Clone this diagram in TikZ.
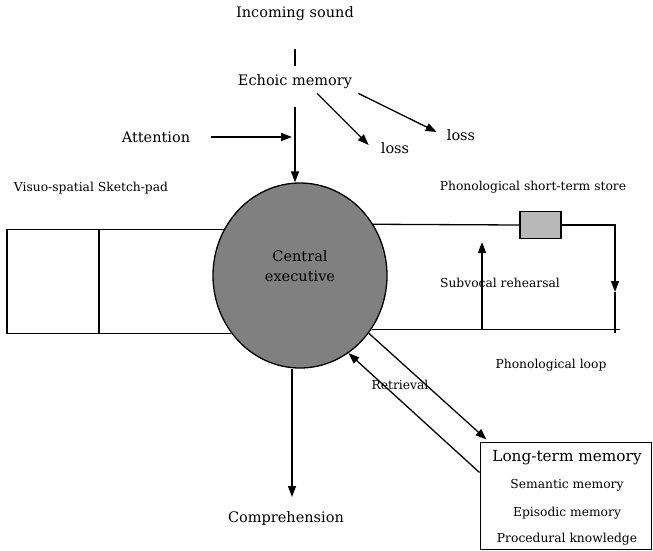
\documentclass[tikz,border=0pt]{standalone}
\usepackage{fontspec}
\setmainfont{DejaVu Serif}
\usetikzlibrary{arrows.meta,positioning,shapes.geometric}

\begin{document}
\begin{tikzpicture}[x=1pt,y=-1pt,
  lbl/.style={font=\fontsize{14.5}{17}\selectfont,inner sep=2pt},
  big/.style={font=\fontsize{15.3}{18}\selectfont,inner sep=2pt},
  sml/.style={font=\fontsize{12.3}{14}\selectfont,inner sep=1pt},
  ln/.style={line width=1.3pt},
  arr/.style={-{Triangle[length=11pt,width=8pt]},line width=1.3pt}
]
  \useasboundingbox (0,0) rectangle (653,550);

  % incoming side
  \node[lbl] (snd) at (295,14) {Incoming sound};
  \node[lbl] (echo) at (295,82) {Echoic memory};
  \node[lbl] (attn) at (156,137) {Attention};
  \node[lbl] (loss1) at (395,148) {loss};
  \node[lbl] (loss2) at (461,135) {loss};
  \coordinate (inA) at (295,49);
  \coordinate (inB) at (295,66);
  \coordinate (echB) at (295,107);
  \coordinate (attT) at (292,137);

  % central executive
  \node[ellipse,draw,ln,fill=black!50,minimum width=174pt,minimum height=185pt,inner sep=0] (ce) at (300,275.5) {};
  \node[lbl,align=center] (cetxt) at (300,266) {Central\\[3pt]executive};

  \draw[ln] (inA) -- (inB);
  \draw[arr] (echB) -- (echB |- ce.north);
  \draw[arr] (attn.east) ++(19,0) -- (attT);
  \draw[arr] ([xshift=22pt,yshift=-2pt]echo.south) -- ([xshift=-10pt,yshift=3pt]loss1.west);
  \draw[arr] ([xshift=4pt,yshift=-2pt]echo.south east) -- ([xshift=-8pt,yshift=3pt]loss2.west);

  % visuo-spatial sketch-pad
  \node[sml] (vssp) at (91,188) {Visuo-spatial Sketch-pad};
  \coordinate (skL) at (7,230);
  \coordinate (skD) at (99,230);
  \draw[ln] (ce.149) -- (ce.149 -| skL) |- (ce.220);
  \draw[ln] (ce.149 -| skD) -- (ce.220 -| skD);

  % phonological loop
  \node[sml] (psts) at (533,187) {Phonological short-term store};
  \node[draw,ln,fill=black!28,minimum width=41pt,minimum height=27pt,inner sep=0] (store) at (540.5,225) {};
  \coordinate (lpM) at (615,292);
  \coordinate (lpR) at (615,333);
  \coordinate (lpE) at (620,329);
  \coordinate (rhT) at (482,242);
  \draw[ln] (ce.35) -- (store.west);
  \draw[arr] (store.east) -| (lpM);
  \draw[ln] (lpM) -- (lpR);
  \draw[ln] (ce.-37) -- (ce.-37 -| lpE);
  \draw[arr] (rhT |- lpE) -- (rhT);
  \node[sml] (subv) at (500,283) {Subvocal rehearsal};
  \node[sml] (ploop) at (551,365) {Phonological loop};

  % long-term memory
  \node[draw,line width=1pt,minimum width=171pt,minimum height=107pt,inner sep=0] (ltm) at (565.5,495.5) {};
  \node[big] (ltmt) at (567,458) {Long-term memory};
  \node[sml] (sem) at (567,485) {Semantic memory};
  \node[sml] (epi) at (567,513) {Episodic memory};
  \node[sml] (proc) at (567,539) {Procedural knowledge};
  \draw[arr] (ce.-40) -- ([xshift=7pt,yshift=2pt]ltm.north west);
  \draw[arr] ([yshift=-31pt]ltm.north west) -- (ce.-58);
  \node[sml] (retr) at (400,385) {Retrieval};

  % comprehension
  \node[lbl] (comp) at (286,518) {Comprehension};
  \coordinate (cmpT) at (292,497);
  \draw[arr] (ce.south -| cmpT) -- (cmpT);
\end{tikzpicture}
\end{document}
